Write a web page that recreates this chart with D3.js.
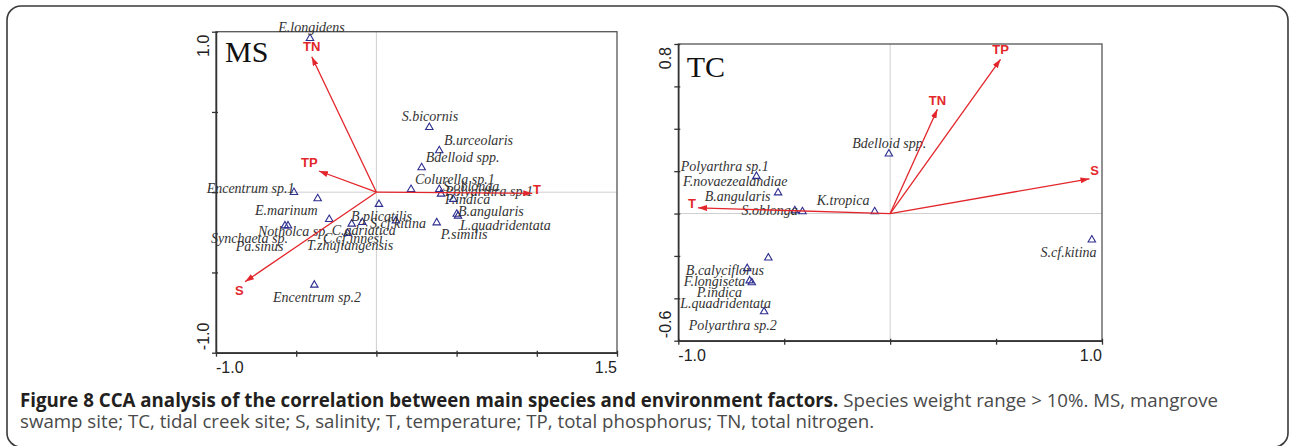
<!DOCTYPE html>
<html>
<head>
<meta charset="utf-8">
<script src="https://cdn.jsdelivr.net/npm/d3@7"></script>
<style>
  html, body { margin: 0; padding: 0; background: #fff; }
  svg { display: block; }
</style>
</head>
<body>
<svg id="fig" width="1289" height="446"></svg>
<script>
// ---- MS (mangrove swamp) CCA scores ----
const msSpecies = ["E.longidens", "S.bicornis", "B.urceolaris", "Bdelloid spp.", "Colurella sp.1",
  "S.oblonga", "Polyarthra sp.1", "P.indica", "B.angularis", "L.quadridentata", "P.similis",
  "Encentrum sp.1", "E.marinum", "Notholca sp.", "Synchaeta sp.", "Pa.sinus", "B.plicatilis",
  "S.cf.kitina", "C.adriatica", "C.cf.innesi", "T.zhujiangensis", "Encentrum sp.2"];
const msSpeciesX = [-0.414, 0.330, 0.392, 0.282, 0.216, 0.392, 0.403, 0.479, 0.501, 0.509, 0.376,
  -0.514, -0.366, -0.294, -0.570, -0.551, 0.016, 0.122, -0.088, -0.154, -0.179, -0.387];
const msSpeciesY = [0.959, 0.404, 0.259, 0.153, 0.018, 0.018, -0.011, -0.044, -0.136, -0.148, -0.190,
  -0.001, -0.040, -0.169, -0.209, -0.209, -0.075, -0.178, -0.188, -0.198, -0.256, -0.578];
const msFactors = ["TN", "TP", "S", "T"];
const msFactorX = [-0.403, -0.358, -0.819, 0.972];
const msFactorY = [0.844, 0.132, -0.558, -0.007];
const msXTicks = [-1.0, -0.5, 0, 0.5, 1.0, 1.5];
const msYTicks = [-1.0, -0.5, 0, 0.5, 1.0];
const msXTickLabels = ["-1.0", "1.5"];
const msYTickLabels = ["-1.0", "1.0"];

// ---- TC (tidal creek) CCA scores ----
const tcSpecies = ["Polyarthra sp.1", "F.novaezealandiae", "B.angularis", "S.oblonga", "K.tropica",
  "Bdelloid spp.", "S.cf.kitina", "B.calyciflorus", "F.longiseta", "P.indica", "L.quadridentata",
  "Polyarthra sp.2"];
const tcSpeciesX = [-0.631, -0.529, -0.450, -0.414, -0.073, -0.006, 0.952, -0.675, -0.663, -0.653, -0.575, -0.595];
const tcSpeciesY = [0.176, 0.098, 0.014, 0.009, 0.009, 0.282, -0.124, -0.259, -0.317, -0.326, -0.209, -0.463];
const tcFactors = ["TN", "TP", "S", "T"];
const tcFactorX = [0.223, 0.521, 0.941, -0.907];
const tcFactorY = [0.492, 0.728, 0.164, 0.027];
const tcXTicks = [-1.0, -0.5, 0, 0.5, 1.0];
const tcYTicks = [-0.6, -0.4, -0.2, 0, 0.2, 0.4, 0.6, 0.8];
const tcXTickLabels = ["-1.0", "1.0"];
const tcYTickLabels = ["-0.6", "0.8"];

// ---- caption ----
const captionBold = "Figure 8 CCA analysis of the correlation between main species and environment factors.";
const captionRest1 = " Species weight range > 10%. MS, mangrove";
const captionLine2 = "swamp site; TC, tidal creek site; S, salinity; T, temperature; TP, total phosphorus; TN, total nitrogen.";

// ---- layout: pixel offsets of the species and vector labels ----
const msLabelOffsets = {
  "E.longidens": [-31.7, -6], "S.bicornis": [-27.6, -6.3], "B.urceolaris": [4.7, -5.7],
  "Bdelloid spp.": [4, -5.7], "Colurella sp.1": [4, -5], "S.oblonga": [3.7, 1.7],
  "Polyarthra sp.1": [4, 2.3], "P.indica": [-8.3, 4.3], "B.angularis": [1.3, 2],
  "L.quadridentata": [2, 14.3], "P.similis": [4, 16.6], "Encentrum sp.1": [-87.3, 1],
  "E.marinum": [-62.7, 16.3], "Notholca sp.": [-71.3, 16.7], "Synchaeta sp.": [-74, 17.6],
  "Pa.sinus": [-52.3, 25.3], "B.plicatilis": [-28, 16.7], "S.cf.kitina": [-26, 6.9],
  "C.adriatica": [-30.6, 12.7], "C.cf.innesi": [-28.7, 18.6], "T.zhujiangensis": [-41, 17],
  "Encentrum sp.2": [-41.3, 17]
};
const tcLabelOffsets = {
  "Polyarthra sp.1": [-75.7, -5.7], "F.novaezealandiae": [-95, -6.3], "B.angularis": [-90, -10],
  "S.oblonga": [-61, 3.3], "K.tropica": [-58, -7], "Bdelloid spp.": [-36.6, -5.7],
  "S.cf.kitina": [-51.3, 16.7], "B.calyciflorus": [-61.3, 6.6], "F.longiseta": [-66, 5.3],
  "P.indica": [-55, 14], "L.quadridentata": [-88, 50.3], "Polyarthra sp.2": [-75.3, 18.3]
};
const msVectorLabelOffsets = { TN: [0, -5.4], TP: [-9.7, -3.7], S: [-5.7, 13.6], T: [4.7, 0.7] };
const tcVectorLabelOffsets = { TN: [0, -4.4], TP: [0, -5], S: [5, -3.7], T: [-6, 0] };

const RED = "#e2262b";
const svg = d3.select("#fig");

// outer rounded frame
svg.append("rect")
  .attr("x", 7).attr("y", 6).attr("width", 1281).attr("height", 441)
  .attr("rx", 14).attr("ry", 14)
  .attr("fill", "none").attr("stroke", "#3a3a3a").attr("stroke-width", 1.6);

// arrowhead marker
svg.append("defs").append("marker")
  .attr("id", "head").attr("markerUnits", "userSpaceOnUse")
  .attr("markerWidth", 9).attr("markerHeight", 6)
  .attr("refX", 9).attr("refY", 3).attr("orient", "auto")
  .append("path").attr("d", "M0,0 L9,3 L0,6 Z").attr("fill", RED);

function panel(cfg) {
  const x = d3.scaleLinear().domain(cfg.xDomain).range([cfg.left, cfg.right]);
  const y = d3.scaleLinear().domain(cfg.yDomain).range([cfg.bottom, cfg.top]);
  const g = svg.append("g");

  // zero reference lines
  g.append("line").attr("x1", x(0)).attr("x2", x(0)).attr("y1", cfg.top).attr("y2", cfg.bottom)
    .attr("stroke", "#cfcfcf").attr("stroke-width", 1);
  g.append("line").attr("x1", cfg.left).attr("x2", cfg.right).attr("y1", y(0)).attr("y2", y(0))
    .attr("stroke", "#cfcfcf").attr("stroke-width", 1);

  // plot frame
  g.append("rect").attr("x", cfg.left).attr("y", cfg.top)
    .attr("width", cfg.right - cfg.left).attr("height", cfg.bottom - cfg.top)
    .attr("fill", "none").attr("stroke", "#555").attr("stroke-width", 1.3);

  // axes with crossing ticks
  const ax = g.append("g").attr("transform", `translate(0,${cfg.bottom})`)
    .call(d3.axisBottom(x).tickValues(cfg.xTicks).tickSizeInner(4).tickSizeOuter(0).tickFormat(""));
  ax.selectAll(".tick line").attr("y1", -2);
  const ay = g.append("g").attr("transform", `translate(${cfg.left},0)`)
    .call(d3.axisLeft(y).tickValues(cfg.yTicks).tickSizeInner(4).tickSizeOuter(0).tickFormat(""));
  ay.selectAll(".tick line").attr("x1", 2);
  g.selectAll(".domain").attr("stroke", "#333").attr("stroke-width", 1.5);
  g.selectAll(".tick line").attr("stroke", "#333").attr("stroke-width", 1.3);

  const axisFont = "'Liberation Sans', Arial, sans-serif";
  // end labels of the x axis
  g.append("text").attr("x", x(cfg.xDomain[0])).attr("y", cfg.bottom + 20.5)
    .attr("text-anchor", "start").attr("font-family", axisFont).attr("font-size", 16)
    .attr("fill", "#222").text(cfg.xTickLabels[0]);
  g.append("text").attr("x", x(cfg.xDomain[1])).attr("y", cfg.bottom + 20.5)
    .attr("text-anchor", "end").attr("font-family", axisFont).attr("font-size", 16)
    .attr("fill", "#222").text(cfg.xTickLabels[1]);
  // end labels of the y axis (rotated)
  g.append("text").attr("transform", `translate(${cfg.left - 7.5},${y(cfg.yDomain[0]) - 2.5}) rotate(-90)`)
    .attr("text-anchor", "start").attr("font-family", axisFont).attr("font-size", 16)
    .attr("fill", "#222").text(cfg.yTickLabels[0]);
  g.append("text").attr("transform", `translate(${cfg.left - 7.5},${y(cfg.yDomain[1]) + 3}) rotate(-90)`)
    .attr("text-anchor", "end").attr("font-family", axisFont).attr("font-size", 16)
    .attr("fill", "#222").text(cfg.yTickLabels[1]);

  // panel title
  g.append("text").attr("x", cfg.left + cfg.titleDx).attr("y", cfg.top + cfg.titleDy)
    .attr("font-family", "'Liberation Serif', 'Times New Roman', serif").attr("font-size", 30)
    .attr("fill", "#111").text(cfg.title);

  // species points
  const species = cfg.species.map((name, i) => ({ name, sx: cfg.speciesX[i], sy: cfg.speciesY[i] }));
  g.selectAll("path.sp").data(species).join("path").attr("class", "sp")
    .attr("d", d3.symbol(d3.symbolTriangle, 24))
    .attr("transform", d => `translate(${x(d.sx)},${y(d.sy)})`)
    .attr("fill", "none").attr("stroke", "#2d2d8f").attr("stroke-width", 1.1);
  g.selectAll("text.sp").data(species).join("text").attr("class", "sp")
    .attr("x", d => x(d.sx) + cfg.labelOffsets[d.name][0])
    .attr("y", d => y(d.sy) + cfg.labelOffsets[d.name][1])
    .attr("font-family", "'Liberation Serif', 'Times New Roman', serif")
    .attr("font-style", "italic").attr("font-size", 14).attr("fill", "#333")
    .text(d => d.name);

  // environmental vectors
  const vectors = cfg.factors.map((name, i) => ({ name, vx: cfg.factorX[i], vy: cfg.factorY[i] }));
  g.selectAll("line.vec").data(vectors).join("line").attr("class", "vec")
    .attr("x1", x(0)).attr("y1", y(0))
    .attr("x2", d => x(d.vx)).attr("y2", d => y(d.vy))
    .attr("stroke", RED).attr("stroke-width", 1.3).attr("marker-end", "url(#head)");
  g.selectAll("text.vec").data(vectors).join("text").attr("class", "vec")
    .attr("x", d => x(d.vx) + cfg.vectorLabelOffsets[d.name][0])
    .attr("y", d => y(d.vy) + cfg.vectorLabelOffsets[d.name][1])
    .attr("text-anchor", "middle").attr("font-family", "'Liberation Sans', Arial, sans-serif")
    .attr("font-weight", "bold").attr("font-size", 13).attr("fill", RED)
    .text(d => d.name);
}

panel({
  left: 216, right: 617, top: 31.7, bottom: 352.7,
  xDomain: [-1.0, 1.5], yDomain: [-1.0, 1.0],
  xTicks: msXTicks, yTicks: msYTicks, xTickLabels: msXTickLabels, yTickLabels: msYTickLabels,
  title: "MS", titleDx: 9, titleDy: 30,
  species: msSpecies, speciesX: msSpeciesX, speciesY: msSpeciesY, labelOffsets: msLabelOffsets,
  factors: msFactors, factorX: msFactorX, factorY: msFactorY, vectorLabelOffsets: msVectorLabelOffsets
});

panel({
  left: 678.3, right: 1102, top: 44, bottom: 340.7,
  xDomain: [-1.0, 1.0], yDomain: [-0.6, 0.8],
  xTicks: tcXTicks, yTicks: tcYTicks, xTickLabels: tcXTickLabels, yTickLabels: tcYTickLabels,
  title: "TC", titleDx: 8.5, titleDy: 33.3,
  species: tcSpecies, speciesX: tcSpeciesX, speciesY: tcSpeciesY, labelOffsets: tcLabelOffsets,
  factors: tcFactors, factorX: tcFactorX, factorY: tcFactorY, vectorLabelOffsets: tcVectorLabelOffsets
});

// caption
const cap = svg.append("g").attr("font-family", "'Open Sans', sans-serif").attr("font-size", 18.7);
const l1 = cap.append("text").attr("x", 20).attr("y", 407);
l1.append("tspan").attr("font-weight", "bold").attr("fill", "#231f20").text(captionBold);
l1.append("tspan").attr("fill", "#4a4a4a").text(captionRest1);
cap.append("text").attr("x", 20).attr("y", 428).attr("fill", "#4a4a4a").text(captionLine2);
</script>
</body>
</html>
